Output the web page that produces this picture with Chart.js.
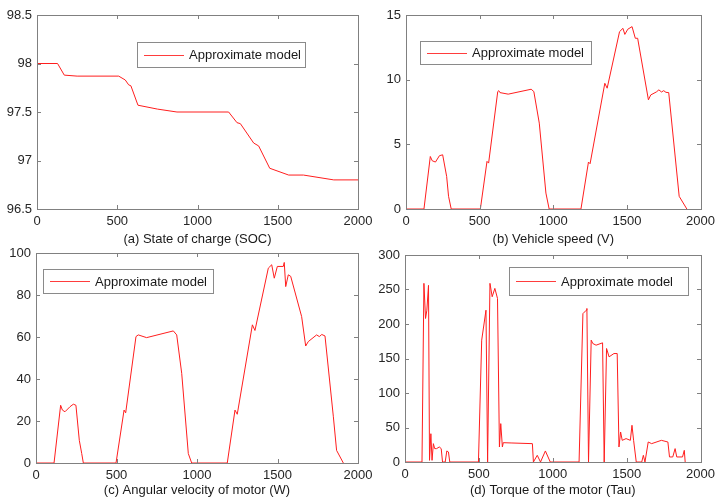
<!doctype html>
<html>
<head>
  <title>Approximate model</title>
  <script src="https://cdn.jsdelivr.net/npm/chart.js@4.4.0/dist/chart.umd.min.js"></script>
  <style>
    body { margin: 0; background: #fff; }
    #wrap { position: relative; width: 720px; height: 501px; overflow: hidden; }
    #wrap canvas { position: absolute; }
  </style>
</head>
<body>
<div id="wrap">
  <canvas id="socChart" style="left:0;top:0" width="380" height="250"></canvas>
  <canvas id="speedChart" style="left:360px;top:0" width="360" height="250"></canvas>
  <canvas id="omegaChart" style="left:0;top:240px" width="380" height="261"></canvas>
  <canvas id="torqueChart" style="left:360px;top:240px" width="360" height="261"></canvas>
</div>

<script>
  var seriesLabel = "Approximate model";
  var xTicks = [0, 500, 1000, 1500, 2000];

  // (a) state of charge
  var socTime = [0, 128, 170, 250, 509, 550, 571, 585, 629, 750, 872, 1194, 1246, 1267, 1350, 1381, 1450, 1568, 1660, 1849, 2000];
  var socValue = [98.0, 98.0, 97.88, 97.87, 97.87, 97.83, 97.78, 97.77, 97.57, 97.53, 97.5, 97.5, 97.39, 97.38, 97.18, 97.15, 96.92, 96.85, 96.85, 96.8, 96.8];

  // (b) vehicle speed
  var speedTime = [0, 122, 165, 178, 200, 227, 249, 276, 289, 307, 505, 550, 561, 623, 630, 638, 694, 850, 868, 905, 950, 972,
    1188, 1239, 1250, 1350, 1366, 1450, 1473, 1486, 1506, 1535, 1557, 1573, 1646, 1662, 1700, 1717, 1735, 1750, 1765, 1784, 1855, 1907];
  var speedValue = [0, 0, 4.06, 3.73, 3.63, 4.12, 4.19, 2.52, 0.98, 0, 0, 3.68, 3.55, 9.08, 9.15, 9.0, 8.88, 9.26, 9.08, 6.64, 1.23, 0,
    0, 3.63, 3.5, 9.72, 9.34, 13.71, 13.97, 13.5, 13.9, 14.1, 13.2, 13.2, 8.44, 8.82, 9.05, 9.21, 9.05, 9.15, 9.02, 9.0, 0.98, 0];

  // (c) angular velocity of motor
  var omegaTime = [0, 112, 153, 164, 180, 211, 232, 248, 269, 284, 294, 497, 547, 557, 621, 635, 687, 853, 874, 905, 946, 967,
    1188, 1236, 1250, 1344, 1360, 1443, 1464, 1480, 1499, 1536, 1542, 1551, 1567, 1582, 1650, 1675, 1691, 1743, 1760, 1775, 1795, 1847, 1867, 1909];
  var omegaValue = [0, 0, 27.5, 25.2, 24.4, 26.8, 28.0, 27.5, 10.8, 4.5, 0, 0, 25.2, 23.9, 60.2, 61, 59.7, 62.9, 61, 42.7, 4.5, 0,
    0, 25.2, 23.2, 65.8, 63.1, 92.8, 94.4, 88, 93.6, 93.6, 95.5, 84, 89.6, 88.9, 69.7, 55.7, 57.8, 61, 60.2, 61.2, 60.5, 22, 6, 0];

  // (d) torque of the motor
  var torqueTime = [0, 115, 128, 139, 148, 159, 166, 175, 183, 192, 201, 214, 232, 245, 254, 272, 283, 294, 303,
    497, 519, 548, 559, 575, 590, 608, 626, 639, 648, 659, 665, 718, 862, 869, 895, 917, 950, 983,
    1178, 1204, 1227, 1231, 1242, 1260, 1271, 1293, 1337, 1348, 1364, 1381, 1414, 1436, 1448, 1459, 1470, 1496, 1525, 1536, 1547, 1565,
    1602, 1613, 1624, 1646, 1669, 1735, 1779, 1790, 1812, 1828, 1839, 1878, 1890, 1896];
  var torqueValue = [0, 0, 258.9, 208, 220, 256, 2.4, 41, 2.4, 26.6, 19.4, 19.4, 21.8, 19.4, 0, 0, 16, 14.5, 0,
    0, 176.6, 220, 0, 258.9, 239.5, 251.6, 237, 21.8, 55.6, 21.8, 28, 27.6, 26.6, 0, 9.7, 0, 16, 0,
    0, 215, 220, 222.5, 0, 176.6, 171.7, 169.3, 172.7, 0, 164.5, 152.4, 157.2, 157.2, 21.8, 43.5, 31.4, 33.9, 31.4, 53.2, 31.4, 0,
    0, 9.7, 0, 29, 26.6, 31.4, 29, 7.3, 7.3, 19.4, 7.3, 7.3, 16.9, 0];

  var fontFamily = '"Liberation Sans", Arial, Helvetica, sans-serif';

  // matlab style box with inward ticks plus a boxed legend
  var matlabBox = {
    id: 'matlabBox',
    afterDraw: function (chart, args, opts) {
      var ctx = chart.ctx, a = chart.chartArea;
      var xs = chart.scales.x, ys = chart.scales.y;
      var l = Math.round(a.left), r = Math.round(a.right), t = Math.round(a.top), b = Math.round(a.bottom);
      ctx.save();
      ctx.strokeStyle = '#808080';
      ctx.lineWidth = 1;
      ctx.beginPath();
      xs.ticks.forEach(function (tk) {
        var px = Math.round(xs.getPixelForValue(tk.value)) + 0.5;
        if (px < l + 2 || px > r - 2) return;
        ctx.moveTo(px, b); ctx.lineTo(px, b - 4);
        ctx.moveTo(px, t); ctx.lineTo(px, t + 4);
      });
      ys.ticks.forEach(function (tk) {
        var py = Math.round(ys.getPixelForValue(tk.value)) + 0.5;
        if (py < t + 2 || py > b - 2) return;
        ctx.moveTo(l, py); ctx.lineTo(l + 4, py);
        ctx.moveTo(r, py); ctx.lineTo(r - 4, py);
      });
      ctx.stroke();
      ctx.strokeRect(l + 0.5, t + 0.5, r - l, b - t);

      // legend
      var g = opts.box;
      ctx.fillStyle = '#fff';
      ctx.fillRect(g.x, g.y, g.w, g.h);
      ctx.strokeStyle = '#8a8a8a';
      ctx.strokeRect(g.x + 0.5, g.y + 0.5, g.w, g.h);
      var my = Math.round(g.y + g.h / 2) + 0.5;
      ctx.strokeStyle = 'rgba(255,40,40,0.9)';
      ctx.beginPath();
      ctx.moveTo(g.x + 7, my); ctx.lineTo(g.x + 47, my);
      ctx.stroke();
      ctx.fillStyle = '#1a1a1a';
      ctx.font = '13px ' + fontFamily;
      ctx.textBaseline = 'middle';
      ctx.fillText(chart.data.datasets[0].label, g.x + 52, g.y + g.h / 2 + 1);
      ctx.restore();
    }
  };

  function makePanel(id, times, values, cfg) {
    var canvas = document.getElementById(id);
    var W = canvas.width, H = canvas.height;
    var points = times.map(function (t, i) { return { x: t, y: values[i] }; });
    return new Chart(canvas, {
      type: 'line',
      data: {
        datasets: [{
          label: seriesLabel,
          data: points,
          borderColor: 'rgb(255,30,30)',
          borderWidth: 1,
          pointRadius: 0,
          fill: false,
          tension: 0
        }]
      },
      plugins: [matlabBox],
      options: {
        responsive: false,
        animation: false,
        layout: { padding: { left: 0, top: cfg.area.top, right: W - cfg.area.right, bottom: 0 } },
        plugins: {
          legend: { display: false },
          tooltip: { enabled: false },
          matlabBox: { box: cfg.legend }
        },
        scales: {
          x: {
            type: 'linear',
            min: 0, max: 2000,
            afterBuildTicks: function (s) { s.ticks = xTicks.map(function (v) { return { value: v }; }); },
            grid: { display: false, drawTicks: false },
            border: { display: false },
            ticks: {
              padding: 5, color: '#262626', font: { family: fontFamily, size: 13 }, maxRotation: 0,
              callback: function (v) { return String(v); }
            },
            title: { display: true, text: cfg.title, color: '#1a1a1a', padding: { top: 0, bottom: 3 }, font: { family: fontFamily, size: 13 } },
            afterFit: function (s) { s.height = H - cfg.area.bottom; }
          },
          y: {
            min: cfg.yMin, max: cfg.yMax,
            afterBuildTicks: function (s) { s.ticks = cfg.yTicks.map(function (v) { return { value: v }; }); },
            grid: { display: false, drawTicks: false },
            border: { display: false },
            ticks: {
              padding: 5, color: '#262626', font: { family: fontFamily, size: 13 },
              callback: function (v) { return String(Math.round(v * 10) / 10); }
            },
            afterFit: function (s) { s.width = cfg.area.left; }
          }
        }
      }
    });
  }

  makePanel('socChart', socTime, socValue, {
    yMin: 96.5, yMax: 98.5, yTicks: [96.5, 97, 97.5, 98, 98.5],
    title: '(a) State of charge (SOC)',
    area: { left: 37, top: 15, right: 358, bottom: 209 },
    legend: { x: 137, y: 42, w: 168, h: 25 }
  });
  makePanel('speedChart', speedTime, speedValue, {
    yMin: 0, yMax: 15, yTicks: [0, 5, 10, 15],
    title: '(b) Vehicle speed (V)',
    area: { left: 46, top: 15, right: 346, bottom: 209 },
    legend: { x: 60, y: 41, w: 171, h: 23 }
  });
  makePanel('omegaChart', omegaTime, omegaValue, {
    yMin: 0, yMax: 100, yTicks: [0, 20, 40, 60, 80, 100],
    title: '(c) Angular velocity of motor (W)',
    area: { left: 36, top: 13, right: 358, bottom: 223 },
    legend: { x: 43, y: 29, w: 170, h: 24 }
  });
  makePanel('torqueChart', torqueTime, torqueValue, {
    yMin: 0, yMax: 300, yTicks: [0, 50, 100, 150, 200, 250, 300],
    title: '(d) Torque of the motor (Tau)',
    area: { left: 45, top: 15, right: 347, bottom: 222 },
    legend: { x: 149, y: 27, w: 179, h: 28 }
  });
</script>
</body>
</html>
